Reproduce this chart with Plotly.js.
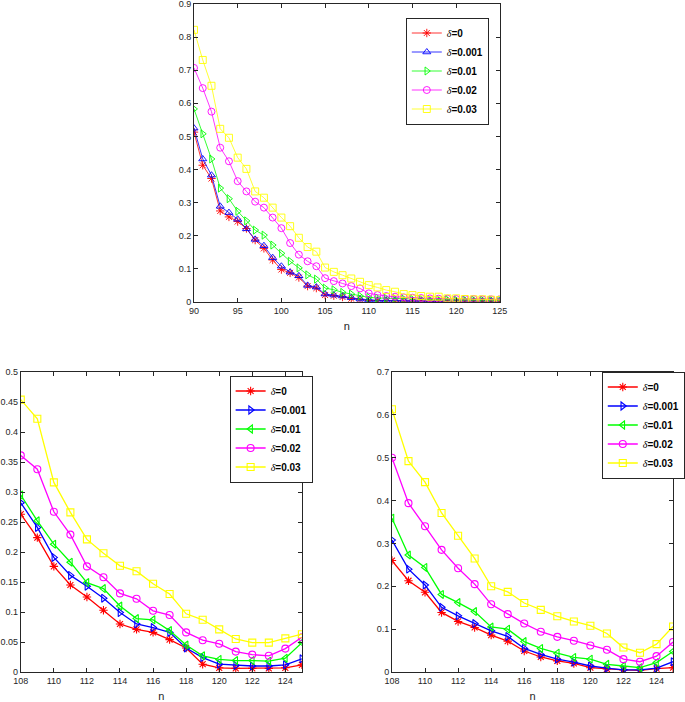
<!DOCTYPE html>
<html><head><meta charset="utf-8">
<script src="https://cdn.plot.ly/plotly-3.0.1.min.js"></script>
<style>html,body{margin:0;padding:0;background:#fff}</style>
</head><body>
<div id="chart" style="width:685px;height:702px"></div>
<script>
// ---------- data ----------
const deltaLabels = ['0', '0.001', '0.01', '0.02', '0.03'];
const nTop = [90,91,92,93,94,95,96,97,98,99,100,101,102,103,104,105,106,107,108,109,110,111,112,113,114,115,116,117,118,119,120,121,122,123,124,125];
const nBottom = [108,109,110,111,112,113,114,115,116,117,118,119,120,121,122,123,124,125];

// top panel
const top_d0     = [0.513,0.413,0.373,0.275,0.257,0.243,0.222,0.187,0.162,0.127,0.098,0.088,0.074,0.048,0.042,0.021,0.019,0.015,0.010,0.008,0.005,0.004,0.004,0.003,0.003,0.003,0.003,0.002,0.002,0.002,0.002,0.002,0.002,0.002,0.002,0.002];
const top_d0001  = [0.525,0.432,0.383,0.289,0.270,0.250,0.221,0.189,0.170,0.134,0.108,0.090,0.079,0.050,0.045,0.024,0.021,0.018,0.013,0.009,0.006,0.005,0.005,0.004,0.004,0.004,0.003,0.003,0.003,0.003,0.003,0.003,0.003,0.003,0.003,0.003];
const top_d001   = [0.583,0.508,0.432,0.344,0.312,0.274,0.245,0.217,0.202,0.172,0.147,0.123,0.103,0.082,0.069,0.042,0.037,0.029,0.024,0.018,0.014,0.012,0.011,0.010,0.009,0.008,0.008,0.007,0.007,0.007,0.006,0.006,0.006,0.006,0.006,0.006];
const top_d002   = [0.707,0.646,0.575,0.466,0.425,0.365,0.334,0.303,0.285,0.255,0.223,0.178,0.143,0.123,0.108,0.072,0.063,0.056,0.048,0.041,0.026,0.021,0.018,0.016,0.014,0.013,0.012,0.011,0.010,0.010,0.009,0.009,0.009,0.008,0.008,0.008];
const top_d003   = [0.822,0.731,0.653,0.523,0.496,0.436,0.402,0.334,0.315,0.285,0.255,0.229,0.194,0.166,0.152,0.104,0.091,0.081,0.071,0.061,0.051,0.044,0.036,0.031,0.024,0.021,0.018,0.016,0.016,0.011,0.011,0.009,0.008,0.008,0.007,0.006];

// bottom-left panel
const bl_d0    = [0.263,0.224,0.176,0.145,0.125,0.103,0.080,0.071,0.066,0.054,0.040,0.013,0.007,0.006,0.006,0.006,0.007,0.012];
const bl_d0001 = [0.282,0.241,0.191,0.161,0.143,0.123,0.099,0.080,0.074,0.066,0.040,0.024,0.013,0.011,0.010,0.010,0.012,0.022];
const bl_d001  = [0.295,0.252,0.213,0.183,0.149,0.139,0.110,0.089,0.087,0.069,0.045,0.027,0.021,0.019,0.019,0.018,0.023,0.049];
const bl_d002  = [0.361,0.338,0.267,0.229,0.176,0.158,0.131,0.122,0.102,0.095,0.066,0.053,0.047,0.034,0.029,0.027,0.039,0.058];
const bl_d003  = [0.454,0.422,0.316,0.266,0.221,0.198,0.177,0.168,0.147,0.130,0.097,0.087,0.071,0.055,0.049,0.049,0.056,0.063];

// bottom-right panel
const br_d0    = [0.260,0.213,0.186,0.139,0.118,0.104,0.086,0.072,0.049,0.035,0.026,0.020,0.010,0.007,0.005,0.004,0.008,0.010];
const br_d0001 = [0.308,0.240,0.203,0.151,0.131,0.113,0.096,0.083,0.055,0.041,0.030,0.023,0.014,0.009,0.005,0.005,0.009,0.024];
const br_d001  = [0.359,0.273,0.244,0.181,0.162,0.141,0.105,0.100,0.071,0.055,0.044,0.034,0.030,0.018,0.014,0.010,0.022,0.048];
const br_d002  = [0.500,0.394,0.340,0.285,0.242,0.205,0.158,0.135,0.113,0.094,0.082,0.073,0.062,0.052,0.030,0.024,0.037,0.070];
const br_d003  = [0.613,0.492,0.443,0.371,0.318,0.265,0.200,0.187,0.161,0.145,0.130,0.118,0.108,0.090,0.057,0.045,0.065,0.106];

// ---------- styles ----------
const colors = ['#ff0000', '#0000ff', '#00ff00', '#ff00ff', '#ffff00'];
const topSymbols = ['asterisk-open', 'triangle-up-open', 'triangle-right-open', 'circle-open', 'square-open'];
const botSymbols = ['asterisk-open', 'triangle-right-open', 'triangle-left-open', 'circle-open', 'square-open'];

function legendName(lbl) {
  return '<span style="font-family:Liberation Serif;font-style:italic;font-weight:normal">δ</span><b>=' + lbl + '</b>';
}

const panels = [
  {x: nTop, ys: [top_d0, top_d0001, top_d001, top_d002, top_d003], xa: 'x', ya: 'y', leg: 'legend', sym: topSymbols, lw: 0.8, ms: 7, mlw: 0.9},
  {x: nBottom, ys: [bl_d0, bl_d0001, bl_d001, bl_d002, bl_d003], xa: 'x2', ya: 'y2', leg: 'legend2', sym: botSymbols, lw: 1.3, ms: 7, mlw: 1.1},
  {x: nBottom, ys: [br_d0, br_d0001, br_d001, br_d002, br_d003], xa: 'x3', ya: 'y3', leg: 'legend3', sym: botSymbols, lw: 1.3, ms: 7, mlw: 1.1}
];

const traces = [];
panels.forEach(p => {
  p.ys.forEach((y, i) => {
    traces.push({
      x: p.x, y: y, xaxis: p.xa, yaxis: p.ya, legend: p.leg,
      type: 'scatter', mode: 'lines+markers',
      name: legendName(deltaLabels[i]),
      line: {color: colors[i], width: p.lw},
      marker: {symbol: p.sym[i], size: p.ms, color: colors[i], line: {color: colors[i], width: p.mlw}}
    });
  });
});

const W = 685, H = 702;
const tickFont = {family: 'Liberation Sans, Arial, sans-serif', size: 9, color: '#262626'};
function axisBase() {
  return {
    showline: true, mirror: 'ticks', ticks: 'inside', ticklen: 4, tickwidth: 1,
    linecolor: '#262626', linewidth: 1, tickcolor: '#262626',
    showgrid: false, zeroline: false, tickfont: tickFont, fixedrange: true,
    ticklabeloverflow: 'allow'
  };
}
const titleFont = {family: 'Liberation Sans, Arial, sans-serif', size: 11, color: '#262626'};

const legendBase = (xpx, ypx) => ({
  x: xpx / W, xanchor: 'left', y: 1 - ypx / H, yanchor: 'middle',
  bgcolor: '#ffffff', bordercolor: '#262626', borderwidth: 1,
  font: {family: 'Liberation Sans, Arial, sans-serif', size: 10, color: '#000'},
  itemwidth: 30, tracegroupgap: 0, traceorder: 'normal'
});

const layout = {
  width: W, height: H,
  margin: {l: 0, r: 0, t: 0, b: 0},
  paper_bgcolor: '#ffffff', plot_bgcolor: '#ffffff',
  showlegend: true,
  xaxis: Object.assign(axisBase(), {domain: [196 / W, 505 / W], range: [90, 125], tick0: 90, dtick: 5, anchor: 'y',
    title: {text: 'n', font: titleFont, standoff: 7}}),
  yaxis: Object.assign(axisBase(), {domain: [1 - 302 / H, 1 - 4 / H], range: [0, 0.90001], tick0: 0, dtick: 0.1, anchor: 'x'}),
  xaxis2: Object.assign(axisBase(), {domain: [21 / W, 305 / W], range: [108, 125], tick0: 108, dtick: 2, anchor: 'y2',
    title: {text: 'n', font: titleFont, standoff: 7}}),
  yaxis2: Object.assign(axisBase(), {domain: [1 - 672 / H, 1 - 372 / H], range: [0, 0.50001], tick0: 0, dtick: 0.05, anchor: 'x2'}),
  xaxis3: Object.assign(axisBase(), {domain: [396 / W, 680 / W], range: [108, 125], tick0: 108, dtick: 2, anchor: 'y3',
    title: {text: 'n', font: titleFont, standoff: 7}}),
  yaxis3: Object.assign(axisBase(), {domain: [1 - 672 / H, 1 - 372 / H], range: [0, 0.70001], tick0: 0, dtick: 0.1, anchor: 'x3'}),
  legend: legendBase(410, 71),
  legend2: legendBase(232, 429),
  legend3: legendBase(608, 425)
};

Plotly.newPlot('chart', traces, layout, {displayModeBar: false, staticPlot: true});
</script>
</body></html>
